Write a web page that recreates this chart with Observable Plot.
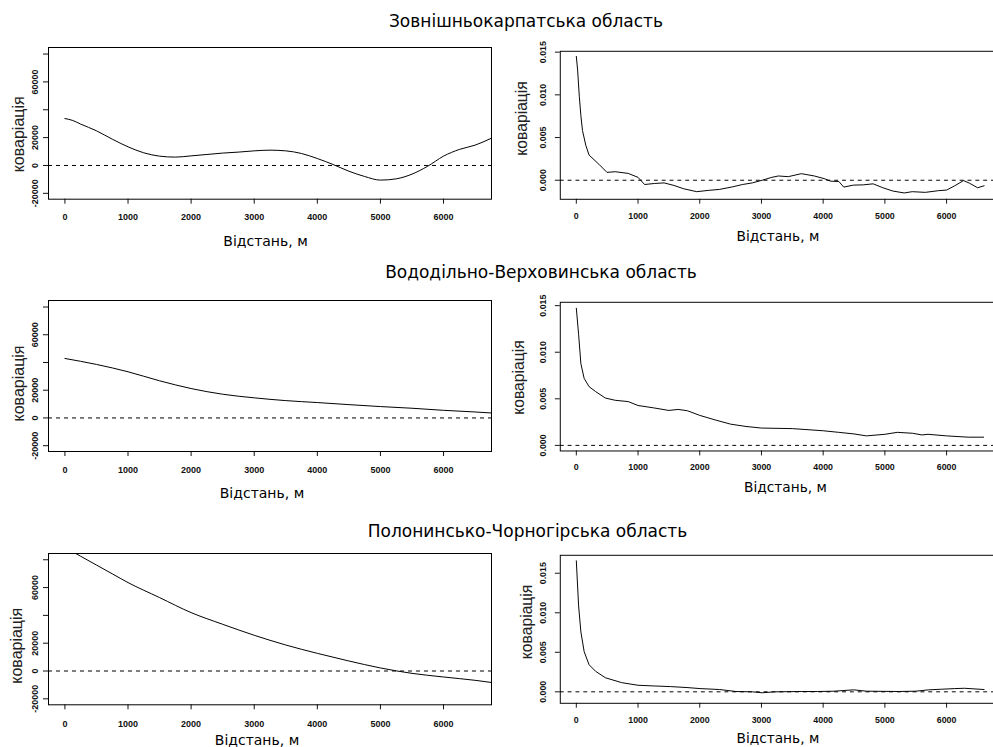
<!DOCTYPE html>
<html><head><meta charset="utf-8">
<script src="https://cdn.jsdelivr.net/npm/d3@7"></script>
<script src="https://cdn.jsdelivr.net/npm/@observablehq/plot@0.6"></script>
<style>
html,body{margin:0;padding:0;background:#fff;overflow:hidden}
#root{position:relative;width:993px;height:747px;overflow:hidden;background:#fff}
.title{position:absolute;font-family:"DejaVu Sans";font-size:17px;color:#000;white-space:nowrap;transform:translate(-50%,-50%);line-height:1}
.panel{position:absolute}
</style></head><body><div id="root"></div>
<script>
// ---- text ----
const regionTitles = ["Зовнішньокарпатська область", "Вододільно-Верховинська область", "Полонинсько-Чорногірська область"];
const xLabel = "Відстань, м";
const yLabel = "коваріація";

// ---- ticks ----
const xTicks = [0, 1000, 2000, 3000, 4000, 5000, 6000];
const yTicksLeft = [-20000, 0, 20000, 40000, 60000, 80000];
const yTickLabelsLeft = [-20000, 0, 20000, 60000];
const yTicksRight = [0, 0.005, 0.010, 0.015];

// ---- data: Зовнішньокарпатська, left ----
const dist1 = [0,125,250,500,750,1000,1250,1500,1750,2000,2250,2500,2750,3000,3250,3500,3750,4000,4250,4500,4750,5000,5250,5500,5750,6000,6250,6500,6750];
const cov1 = [33700,32300,29700,24900,18900,13400,9100,6700,6000,6900,7900,8900,9600,10500,11000,10500,8600,5000,700,-4100,-7900,-10500,-9600,-6200,-500,6700,11500,14600,19400];
// ---- data: Зовнішньокарпатська, right ----
const dist2 = [0,21,48,74,100,153,206,365,497,630,841,1000,1106,1265,1423,1582,1741,1952,2138,2323,2534,2693,2852,3011,3169,3275,3434,3646,3857,4016,4122,4254,4333,4492,4651,4810,4968,5127,5312,5444,5656,5868,6000,6132,6275,6370,6503,6608];
const cov2 = [0.0145,0.0129,0.00984,0.00754,0.00582,0.0041,0.00295,0.00188,0.00092,0.001,0.0008,0.00034,-0.0005,-0.00038,-0.00031,-0.00061,-0.001,-0.00134,-0.00119,-0.00107,-0.00077,-0.0005,-0.00031,0,0.00034,0.0005,0.00042,0.00077,0.0005,0.00019,-0.00011,-0.00015,-0.0008,-0.00057,-0.00054,-0.00042,-0.00088,-0.00126,-0.00149,-0.00134,-0.00142,-0.00122,-0.00115,-0.00065,-0.00004,-0.00034,-0.00088,-0.00065];
// ---- data: Вододільно-Верховинська, left ----
const dist3 = [0,500,1000,1500,2000,2500,3000,3500,4000,4500,5000,5500,6000,6500,6750];
const cov3 = [42900,38600,33300,26800,21200,17100,14500,12500,11100,9600,8200,7000,5500,4300,3600];
// ---- data: Вододільно-Верховинська, right ----
const dist4 = [0,37,74,127,206,312,471,630,841,1000,1250,1500,1650,1800,2000,2250,2500,2750,3000,3500,4000,4250,4500,4700,5000,5200,5450,5600,5700,6000,6350,6600];
const cov4 = [0.01472,0.01192,0.00876,0.00719,0.00631,0.00578,0.00508,0.00484,0.0047,0.00428,0.00403,0.00375,0.00386,0.00372,0.00322,0.00273,0.00228,0.00203,0.00186,0.0018,0.00157,0.0014,0.00123,0.00102,0.00119,0.0014,0.0013,0.00112,0.00119,0.00102,0.00088,0.00088];
// ---- data: Полонинсько-Чорногірська, left ----
const dist5 = [0,250,500,750,1000,1500,2000,2500,3000,3500,4000,4500,5000,5500,6000,6500,6750];
const cov5 = [89000,82500,76200,69900,63600,52800,42000,33600,25700,18700,12700,7200,2200,-1700,-4300,-6700,-8200];
// ---- data: Полонинсько-Чорногірська, right ----
const dist6 = [0,37,74,127,206,312,471,735,1000,1265,1529,1794,2005,2323,2587,2852,3011,3222,3646,3910,4175,4492,4704,5233,5497,5709,5921,6132,6291,6608];
const cov6 = [0.01657,0.01087,0.00756,0.00508,0.00343,0.0026,0.00178,0.00116,0.00083,0.00074,0.00066,0.00054,0.00041,0.00029,0.00004,0,-0.00012,0,0.00004,0.00004,0.00008,0.00025,0.00008,0.00004,0.00008,0.00025,0.00033,0.00041,0.00045,0.00029];

// ---- layout ----
const xDomain = [-260, 6760];
const leftFmt = d => yTickLabelsLeft.includes(d) ? String(d) : "";
const rightFmt = d3.format(".3f");
const panels = [
  {dist: dist1, cov: cov1, left: 0, ml: 48, mr: 9, width: 500, ft: 47.3, fh: 151.7, yDomain: [-24200, 84700], yTicks: yTicksLeft, yFmt: leftFmt, xpad: 9.5, ypad: 6, curve: "monotone-x", xl: [-4.5, 42.7], yl: [-30, 11]},
  {dist: dist2, cov: cov2, left: 500, ml: 61, mr: 0, width: 503, ft: 50.7, fh: 151, yDomain: [-0.00223, 0.0151], yTicks: yTicksRight, yFmt: rightFmt, xpad: 8.5, ypad: 10, curve: "linear", xl: [1, 38.3], yl: [-39.3, -7]},
  {dist: dist3, cov: cov3, left: 0, ml: 48, mr: 9, width: 500, ft: 300, fh: 151, yDomain: [-24200, 84700], yTicks: yTicksLeft, yFmt: leftFmt, xpad: 10.5, ypad: 6, curve: "monotone-x", xl: [-8, 42], yl: [-30, 7.5]},
  {dist: dist4, cov: cov4, left: 500, ml: 61, mr: 0, width: 503, ft: 302.3, fh: 151.7, yDomain: [-0.0006, 0.01536], yTicks: yTicksRight, yFmt: rightFmt, xpad: 8, ypad: 10, curve: "linear", xl: [8.8, 37.7], yl: [-41.7, 1]},
  {dist: dist5, cov: cov5, left: 0, ml: 48, mr: 9, width: 500, ft: 552.7, fh: 151.3, yDomain: [-24300, 84500], yTicks: yTicksLeft, yFmt: leftFmt, xpad: 10.5, ypad: 6, curve: "monotone-x", xl: [-13, 36], yl: [-31.3, 16.6]},
  {dist: dist6, cov: cov6, left: 500, ml: 61, mr: 0, width: 503, ft: 555, fh: 151, yDomain: [-0.00145, 0.01727], yTicks: yTicksRight, yFmt: rightFmt, xpad: 8.5, ypad: 10, curve: "linear", xl: [1, 35.7], yl: [-33.7, -7.5]}
];
const titlePos = [[526, 20.7], [541, 271.7], [527.5, 530.5]];

const root = document.getElementById("root");
regionTitles.forEach((t, i) => {
  const div = document.createElement("div");
  div.className = "title";
  div.textContent = t;
  div.style.left = titlePos[i][0] + "px";
  div.style.top = titlePos[i][1] + "px";
  root.appendChild(div);
});

const mt = 10, mb = 55;
panels.forEach(p => {
  const data = p.dist.map((d, i) => ({d, c: p.cov[i]}));
  const chart = Plot.plot({
    width: p.width,
    height: mt + p.fh + mb,
    marginLeft: p.ml, marginRight: p.mr, marginTop: mt, marginBottom: mb,
    style: {fontFamily: "Liberation Sans", fontSize: "9px", fontWeight: "bold", color: "#111", background: "transparent", overflow: "visible"},
    x: {domain: xDomain, ticks: xTicks, tickSize: 5, tickPadding: p.xpad, label: null, tickFormat: d => String(d)},
    y: {domain: p.yDomain, ticks: p.yTicks, tickSize: 5, tickPadding: p.ypad, tickRotate: -90, label: null, tickFormat: p.yFmt},
    marks: [
      Plot.ruleY([0], {stroke: "#000", strokeWidth: 1, strokeDasharray: "4,4"}),
      Plot.line(data, {x: "d", y: "c", stroke: "#000", strokeWidth: 1, curve: p.curve, clip: true}),
      Plot.frame({stroke: "#000", strokeWidth: 1}),
      Plot.text([xLabel], {text: d => d, frameAnchor: "bottom", dx: p.xl[0], dy: p.xl[1], textAnchor: "middle", lineAnchor: "middle", fontFamily: "DejaVu Sans", fontSize: 14, fontWeight: "normal", fill: "#000"}),
      Plot.text([yLabel], {text: d => d, frameAnchor: "left", rotate: -90, dx: p.yl[0], dy: p.yl[1], textAnchor: "middle", lineAnchor: "middle", fontFamily: "Liberation Sans", fontSize: 16, fontWeight: "normal", fill: "#222"})
    ]
  });
  const wrap = document.createElement("div");
  wrap.className = "panel";
  wrap.style.left = p.left + "px";
  wrap.style.top = (p.ft - mt) + "px";
  wrap.appendChild(chart);
  root.appendChild(wrap);
});
</script></body></html>
